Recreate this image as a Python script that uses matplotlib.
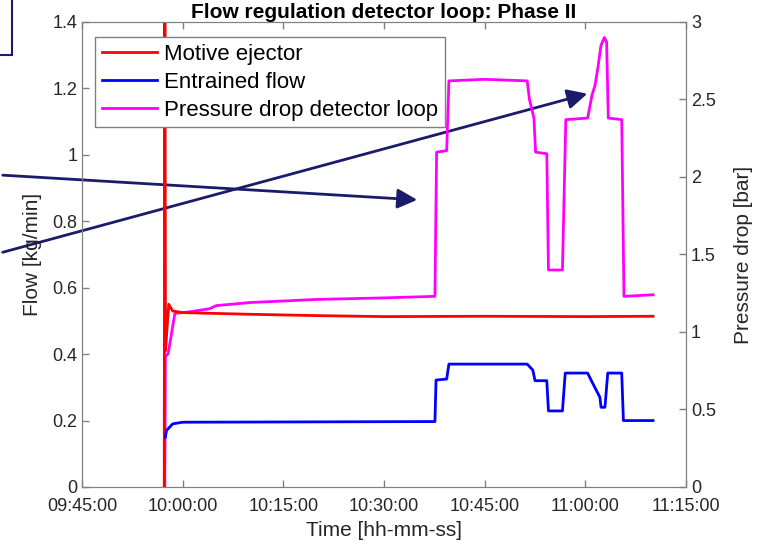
import numpy as np
import pandas as pd
import matplotlib
matplotlib.use("Agg")
import matplotlib.pyplot as plt
import matplotlib.dates as mdates
from matplotlib.patches import FancyArrowPatch, Rectangle

plt.rcParams['font.family'] = ['Liberation Sans', 'DejaVu Sans']

day = "2020-01-01 "

# motive ejector flow [kg/min]
motive_t = ["09:57:15", "09:57:20", "09:57:21", "09:57:26", "09:57:55", "09:58:30",
            "10:00:00", "10:10:00", "10:20:00", "10:30:00", "10:45:00", "11:00:00", "11:10:05"]
motive_v = [0.0, 1.5, 1.5, 0.41, 0.55, 0.53, 0.525, 0.52, 0.516, 0.513, 0.514, 0.513, 0.514]

# entrained flow [kg/min]
entrained_t = ["09:57:25", "09:57:35", "09:58:30", "10:00:00", "10:37:35", "10:37:45",
               "10:39:20", "10:39:40", "10:51:20", "10:52:10", "10:52:30", "10:54:15",
               "10:54:30", "10:56:35", "10:57:00", "11:00:20", "11:01:00", "11:01:50",
               "11:02:10", "11:02:20", "11:02:55", "11:03:20", "11:05:25", "11:05:40", "11:10:05"]
entrained_v = [0.15, 0.17, 0.19, 0.195, 0.197, 0.322, 0.325, 0.37, 0.37, 0.352, 0.32, 0.32,
               0.229, 0.229, 0.343, 0.343, 0.316, 0.283, 0.27, 0.24, 0.24, 0.343, 0.343, 0.20, 0.20]

# pressure drop detector loop [bar]
dp_t = ["09:57:20", "09:57:25", "09:57:50", "09:58:50", "10:01:00", "10:04:00", "10:05:00",
        "10:10:00", "10:20:00", "10:30:00", "10:37:35", "10:37:50", "10:39:20", "10:39:40",
        "10:45:00", "10:51:20", "10:51:40", "10:52:20", "10:52:35", "10:54:15", "10:54:30",
        "10:56:35", "10:57:05", "11:00:20", "11:01:00", "11:01:26", "11:01:53", "11:02:20",
        "11:02:50", "11:03:10", "11:03:25", "11:05:25", "11:05:45", "11:10:05"]
dp_v = [0.0, 0.84, 0.86, 1.12, 1.13, 1.15, 1.17, 1.19, 1.21, 1.22, 1.23, 2.16, 2.17, 2.62,
        2.63, 2.62, 2.50, 2.38, 2.16, 2.15, 1.40, 1.40, 2.37, 2.38, 2.53, 2.59, 2.71, 2.85,
        2.90, 2.87, 2.38, 2.37, 1.23, 1.24]

motive_x = pd.to_datetime([day + s for s in motive_t])
entrained_x = pd.to_datetime([day + s for s in entrained_t])
dp_x = pd.to_datetime([day + s for s in dp_t])

fig = plt.figure(figsize=(7.61, 5.44), dpi=100)
ax = fig.add_axes([0.1078, 0.1048, 0.7937, 0.8548])
ax2 = ax.twinx()

l1, = ax.plot(motive_x, motive_v, color='#ff0000', lw=2, label='Motive ejector')
l2, = ax.plot(entrained_x, entrained_v, color='#0000ff', lw=2, label='Entrained flow')
l3, = ax2.plot(dp_x, dp_v, color='#ff00ff', lw=2, label='Pressure drop detector loop')

ax.set_xlim(pd.Timestamp(day + "09:45:00"), pd.Timestamp(day + "11:15:00"))
ax.set_ylim(0, 1.4)
ax2.set_ylim(0, 3)
ax.set_yticks(np.arange(0, 1.41, 0.2))
ax.set_yticklabels(['0', '0.2', '0.4', '0.6', '0.8', '1', '1.2', '1.4'])
ax2.set_yticks(np.arange(0, 3.01, 0.5))
ax2.set_yticklabels(['0', '0.5', '1', '1.5', '2', '2.5', '3'])
ax.xaxis.set_major_locator(mdates.MinuteLocator(byminute=[0, 15, 30, 45]))
ax.xaxis.set_major_formatter(mdates.DateFormatter('%H:%M:%S'))

for a in (ax, ax2):
    for s in a.spines.values():
        s.set_color('#808080')
    a.tick_params(direction='in', length=5, color='#808080', labelsize=13,
                  labelcolor='#262626', width=1)
ax.tick_params(axis='x', top=True, pad=8)

ax.set_xlabel('Time [hh-mm-ss]', fontsize=15, color='#262626', labelpad=4)
ax.set_ylabel('Flow [kg/min]', fontsize=15, color='#262626', labelpad=7)
ax2.set_ylabel('Pressure drop [bar]', fontsize=15, color='#262626', labelpad=13)
ax.set_title('Flow regulation detector loop: Phase II', fontsize=15,
             fontweight='bold', pad=2)

ax2.set_zorder(1)
ax.set_zorder(2)
ax.patch.set_visible(False)
leg = ax.legend(handles=[l1, l2, l3], loc='upper left', bbox_to_anchor=(0.0215, 0.968),
                borderaxespad=0, fontsize=16, frameon=True, fancybox=False,
                edgecolor='#808080', framealpha=1, handlelength=2.5,
                handletextpad=0.3, labelspacing=0.32, borderpad=0.3)
leg.get_frame().set_linewidth(1)

# annotation arrows and cropped text box, in figure pixels
navy = '#1b1b6b'
W, H = 761, 544
def fp(x, y):
    return (x / W, 1 - y / H)

for start, end in [((0, 175), (420, 200)), ((0, 253), (590, 93))]:
    arr = FancyArrowPatch(fp(*start), fp(*end), transform=fig.transFigure,
                          arrowstyle='-|>,head_length=12,head_width=6',
                          color=navy, lw=2, mutation_scale=1)
    fig.add_artist(arr)

fig.add_artist(Rectangle(fp(-5, 55), 17 / W, 60 / H, transform=fig.transFigure,
                         fill=False, edgecolor=navy, lw=1.5))

fig.savefig('out.png', dpi=100)
